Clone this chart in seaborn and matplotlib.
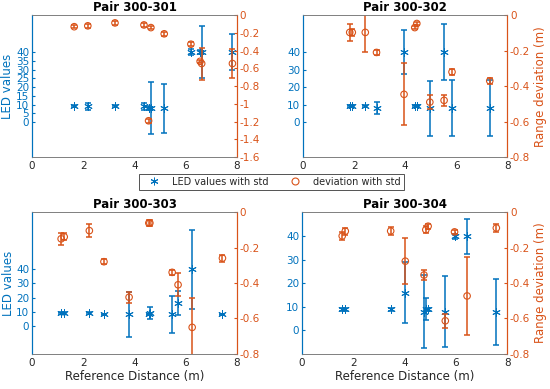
import numpy as np
import matplotlib
matplotlib.use("Agg")
import matplotlib.pyplot as plt
from matplotlib.lines import Line2D
import seaborn as sns

BLUE = "#0072BD"
ORANGE = "#D95319"
DARK = "#262626"

sns.set_style("white")
plt.rcParams["font.family"] = ["DejaVu Sans"]
plt.rcParams["axes.unicode_minus"] = False

titles = ["Pair 300-301", "Pair 300-302", "Pair 300-303", "Pair 300-304"]

# Pair 300-301
x_301 = [1.65, 2.18, 3.24, 4.37, 4.55, 4.64, 5.16, 6.20, 6.56, 6.62, 7.82]
led_301 = [9, 9, 9, 9, 8, 8, 8, 40, 40, 40, 40]
led_std_301 = [0.6, 1.8, 0.6, 1.8, 1.0, 15, 14, 1.5, 1.0, 15, 10.5]
dev_301 = [-0.13, -0.12, -0.087, -0.11, -1.19, -0.14, -0.21, -0.327, -0.52, -0.545, -0.545]
dev_std_301 = [0.02, 0.02, 0.02, 0.02, 0.02, 0.02, 0.02, 0.02, 0.02, 0.18, 0.16]

# Pair 300-302
x_302 = [1.83, 1.93, 2.44, 2.88, 3.96, 4.38, 4.46, 4.97, 5.53, 5.84, 7.32]
led_302 = [9, 9, 9, 8, 40, 9, 9, 8, 40, 8, 8]
led_std_302 = [0.6, 0.6, 0.6, 3.5, 12.6, 0.6, 0.6, 15.7, 16, 16, 16]
dev_302 = [-0.097, -0.097, -0.097, -0.21, -0.446, -0.07, -0.047, -0.49, -0.48, -0.32, -0.37]
dev_std_302 = [0.05, 0.02, 0.11, 0.015, 0.175, 0.01, 0.01, 0.04, 0.03, 0.015, 0.015]

# Pair 300-303
x_303 = [1.14, 1.26, 2.24, 2.81, 3.79, 4.56, 4.60, 5.47, 5.70, 6.25, 7.43]
led_303 = [9, 9, 9, 8, 8, 8, 9, 8, 16, 40, 8]
led_std_303 = [0.6, 0.6, 0.6, 0.6, 16, 0.6, 4, 13, 8.5, 28, 0.6]
dev_303 = [-0.151, -0.14, -0.105, -0.28, -0.48, -0.062, -0.062, -0.34, -0.41, -0.65, -0.26]
dev_std_303 = [0.035, 0.02, 0.035, 0.015, 0.03, 0.015, 0.015, 0.015, 0.065, 0.165, 0.02]

# Pair 300-304
x_304 = [1.57, 1.69, 3.46, 4.03, 4.76, 4.83, 4.92, 5.59, 5.95, 6.44, 7.58]
led_304 = [9, 9, 9, 16, 8, 9, 9, 8, 40, 40, 8]
led_std_304 = [0.6, 0.6, 0.6, 13, 15.5, 4.6, 0.6, 15, 1.0, 7.4, 14]
dev_304 = [-0.135, -0.108, -0.107, -0.277, -0.355, -0.10, -0.08, -0.613, -0.112, -0.473, -0.09]
dev_std_304 = [0.02, 0.02, 0.02, 0.128, 0.028, 0.02, 0.015, 0.04, 0.01, 0.22, 0.02]

panels = [
    (x_301, led_301, led_std_301, dev_301, dev_std_301),
    (x_302, led_302, led_std_302, dev_302, dev_std_302),
    (x_303, led_303, led_std_303, dev_303, dev_std_303),
    (x_304, led_304, led_std_304, dev_304, dev_std_304),
]

# axes layout and axis limits
positions = [
    [0.058, 0.596, 0.373, 0.365],
    [0.551, 0.596, 0.371, 0.365],
    [0.058, 0.090, 0.373, 0.365],
    [0.549, 0.090, 0.373, 0.365],
]
led_lims = [(-20, 61.1), (-20, 61.1), (-20, 80.6), (-10, 50.3)]
led_ticks = [np.arange(0, 41, 5), np.arange(0, 41, 10), np.arange(0, 41, 10), np.arange(0, 41, 10)]
dev_lims = [(-1.6, 0), (-0.8, 0), (-0.8, 0), (-0.8, 0)]
dev_ticks = [np.arange(-1.6, 0.01, 0.2), np.arange(-0.8, 0.01, 0.2),
             np.arange(-0.8, 0.01, 0.2), np.arange(-0.8, 0.01, 0.2)]

ASTERISK = (6, 2, 0)


def fmt_tick(v):
    v = round(float(v), 1)
    if v == 0:
        return "0"
    return f"{v:g}"


fig = plt.figure(figsize=(5.5, 3.89), dpi=100)

for i, (x, led, led_std, dev, dev_std) in enumerate(panels):
    ax = fig.add_axes(positions[i])
    ax2 = ax.twinx()

    ax.errorbar(x, led, yerr=led_std, fmt="none", ecolor=BLUE, elinewidth=1.1,
                capsize=2.5, capthick=1.1)
    sns.scatterplot(x=x, y=led, ax=ax, marker=ASTERISK, color=BLUE, s=30, linewidth=0.7)

    ax2.errorbar(x, dev, yerr=dev_std, fmt="none", ecolor=ORANGE, elinewidth=1.1,
                 capsize=2.5, capthick=1.1)
    sns.scatterplot(x=x, y=dev, ax=ax2, marker="o", color=ORANGE, facecolor="none",
                    edgecolor=ORANGE, s=22, linewidth=0.8)

    ax.set_xlim(0, 8)
    ax.set_xticks([0, 2, 4, 6, 8])
    ax.set_ylim(*led_lims[i])
    ax.set_yticks(led_ticks[i])
    ax.set_yticklabels([fmt_tick(v) for v in led_ticks[i]])
    ax2.set_ylim(*dev_lims[i])
    ax2.set_yticks(dev_ticks[i])
    ax2.set_yticklabels([fmt_tick(v) for v in dev_ticks[i]])

    ax.set_title(titles[i], fontsize=8.5, fontweight="bold", color="black", pad=3)

    for a in (ax, ax2):
        for side in ("top", "bottom"):
            a.spines[side].set_color("#7f7f7f")
            a.spines[side].set_linewidth(0.6)
        a.spines["left"].set_color(BLUE)
        a.spines["right"].set_color(ORANGE)
        a.spines["left"].set_linewidth(0.8)
        a.spines["right"].set_linewidth(0.8)
    ax.tick_params(axis="x", direction="in", length=2.5, labelsize=7.5, colors=DARK, pad=3)
    ax.tick_params(axis="y", direction="in", length=2.5, labelsize=7.5, colors=BLUE, pad=2)
    ax2.tick_params(axis="y", direction="in", length=2.5, labelsize=7.5, colors=ORANGE, pad=2)

    if i % 2 == 0:
        ax.set_ylabel("LED values", fontsize=8.5, color=BLUE, labelpad=1)
    else:
        ax2.set_ylabel("Range deviation (m)", fontsize=8.5, color=ORANGE, labelpad=3)
    if i >= 2:
        ax.set_xlabel("Reference Distance (m)", fontsize=8.5, color=DARK, labelpad=1)

handles = [
    Line2D([], [], linestyle="none", marker=ASTERISK, color=BLUE, markersize=5.5,
           markeredgewidth=0.7, label="LED values with std"),
    Line2D([], [], linestyle="none", marker="o", markerfacecolor="none",
           markeredgecolor=ORANGE, markersize=5, markeredgewidth=0.8,
           label="deviation with std"),
]
leg = fig.legend(handles=handles, loc="center", bbox_to_anchor=(0.493, 0.533), ncol=2,
                 fontsize=7, frameon=True, fancybox=False, edgecolor=DARK,
                 handlelength=2.5, columnspacing=1.5, borderpad=0.3, handletextpad=0.6)
leg.get_frame().set_linewidth(0.7)

fig.savefig("out.png", dpi=100)
